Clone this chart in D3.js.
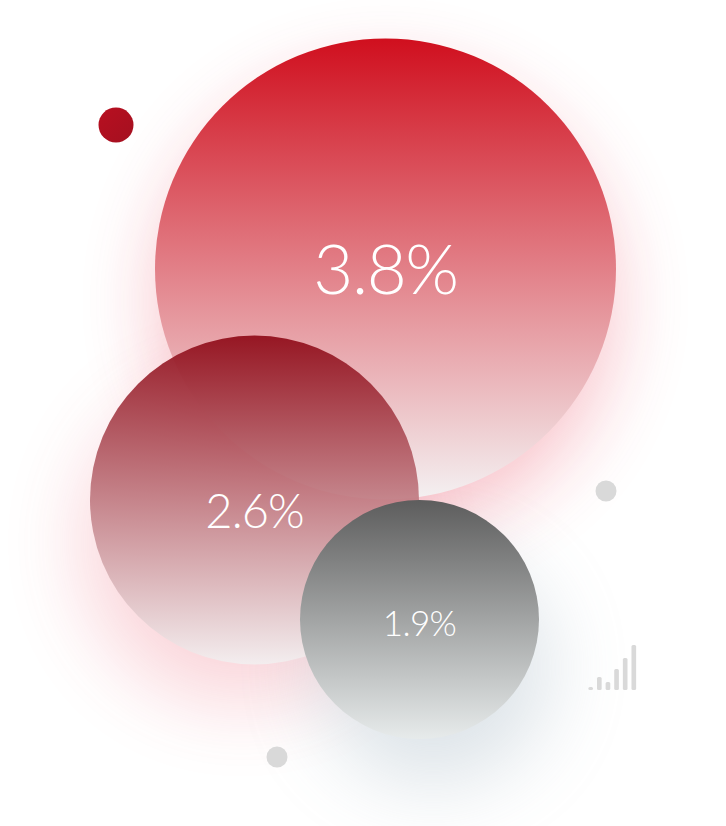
<!DOCTYPE html>
<html><head><meta charset="utf-8">
<script src="https://cdn.jsdelivr.net/npm/d3@7/dist/d3.min.js"></script>
<style>html,body{margin:0;padding:0;background:#fff;overflow:hidden}svg{display:block}</style>
</head><body><svg id="c" width="726" height="826"></svg>
<script>
const labels = ["3.8%", "2.6%", "1.9%"];
const values = [3.8, 2.6, 1.9];
const barValues = [3, 13, 8, 21, 32, 45];
const barIndex = [0, 1, 2, 3, 4, 5];

const svg = d3.select("#c");
const defs = svg.append("defs");
const r = d3.scaleLinear().domain([1.9, 2.6, 3.8]).range([119.5, 164.5, 230.5]);
const layout = [
  {cx:385.5, cy:269, top:"#d00f1e", bottom:"#f4f1f2", op:1,   glow:"#e8394f", go:.32, gx:0,   gy:32, gr:.98, fs:69, ty:294},
  {cx:254.5, cy:500, top:"#900c19", bottom:"#f3eff0", op:.93, glow:"#e8394f", go:.21, gx:-12, gy:42, gr:.98, fs:47, ty:528},
  {cx:419.5, cy:619.5, top:"#5d5d5d", bottom:"#e7ebeb", op:1, glow:"#8fa5b5", go:.30, gx:14,  gy:48, gr:.98, fs:35, ty:636}
];
const blur = defs.append("filter").attr("id","blur").attr("x","-60%").attr("y","-60%").attr("width","220%").attr("height","220%");
blur.append("feGaussianBlur").attr("stdDeviation",40);

layout.forEach((l,i)=>{
  const g = defs.append("linearGradient").attr("id","g"+i).attr("x1",0).attr("y1",0).attr("x2",0).attr("y2",1);
  g.append("stop").attr("offset","0%").attr("stop-color",l.top);
  g.append("stop").attr("offset","100%").attr("stop-color",l.bottom);
});

const data = values.map((v,i)=>({v,label:labels[i],i,...layout[i]}));
svg.append("g").selectAll("circle").data(data).join("circle")
  .attr("cx",d=>d.cx+d.gx).attr("cy",d=>d.cy+d.gy).attr("r",d=>r(d.v)*d.gr)
  .attr("fill",d=>d.glow).attr("opacity",d=>d.go).attr("filter","url(#blur)");
svg.append("g").selectAll("circle").data(data).join("circle")
  .attr("cx",d=>d.cx).attr("cy",d=>d.cy).attr("r",d=>r(d.v))
  .attr("fill",d=>`url(#g${d.i})`).attr("opacity",d=>d.op);
svg.append("g").selectAll("text").data(data).join("text")
  .attr("x",d=>d.cx).attr("y",d=>d.ty).attr("text-anchor","middle")
  .attr("font-family","Lato, 'Open Sans', sans-serif").attr("font-weight",300)
  .attr("letter-spacing","-0.02em")
  .attr("font-size",d=>d.fs).attr("fill","#fff").text(d=>d.label);

defs.append("linearGradient").attr("id","dot").attr("x1",0).attr("y1",0).attr("x2",1).attr("y2",1)
  .call(g=>{g.append("stop").attr("offset","0%").attr("stop-color","#b80f20");g.append("stop").attr("offset","100%").attr("stop-color","#a41020");});
const dots = [{x:116,y:125,r:17.5,f:"url(#dot)"},{x:606,y:491,r:10.5,f:"#d9d9d9"},{x:277,y:757,r:10.5,f:"#d9d9d9"}];
svg.append("g").selectAll("circle").data(dots).join("circle")
  .attr("cx",d=>d.x).attr("cy",d=>d.y).attr("r",d=>d.r).attr("fill",d=>d.f);

const bx = d3.scaleBand().domain(barIndex).range([587.5,637]).paddingInner(.46).paddingOuter(.1);
const by = d3.scaleLinear().domain([0,45]).range([690,645]);
svg.append("g").selectAll("rect").data(barValues).join("rect")
  .attr("x",(d,i)=>bx(i)).attr("width",bx.bandwidth()).attr("y",d=>by(d)).attr("height",d=>by(0)-by(d))
  .attr("rx",1.5).attr("fill","#d9d9d9");
</script></body></html>
